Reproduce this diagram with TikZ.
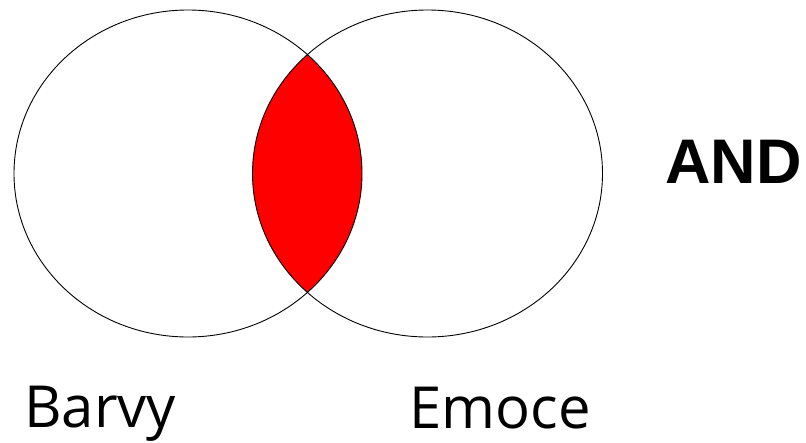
\documentclass[tikz,border=0pt]{standalone}
\usepackage{fontspec}
\setmainfont{Open Sans}
\newfontfamily\andfont{Liberation Sans}
\begin{document}
\begin{tikzpicture}[x=1pt,y=-1pt,
  setline/.style={draw=black,line width=0.9pt},
  label/.style={inner sep=0pt,anchor=base west,font=\fontsize{58}{58}\selectfont},
  oplabel/.style={inner sep=0pt,anchor=base west,font=\andfont\bfseries\fontsize{63}{63}\selectfont}]
\useasboundingbox (0,0) rectangle (806,442);
\fill[white] (0,0) rectangle (806,442);
\coordinate (cl) at (188,173.5);
\coordinate (cr) at (427.5,173.5);
\begin{scope}
  \clip (cl) ellipse [x radius=174, y radius=163.5];
  \fill[red] (cr) ellipse [x radius=175, y radius=163.5];
\end{scope}
\draw[setline] (cl) ellipse [x radius=174, y radius=163.5];
\draw[setline] (cr) ellipse [x radius=175, y radius=163.5];
\node[oplabel] (and) at (665,183) {AND};
\node[label] (barvy) at (24,427) {Barvy};
\node[label] (emoce) at (409,428) {Emoce};
\end{tikzpicture}
\end{document}
